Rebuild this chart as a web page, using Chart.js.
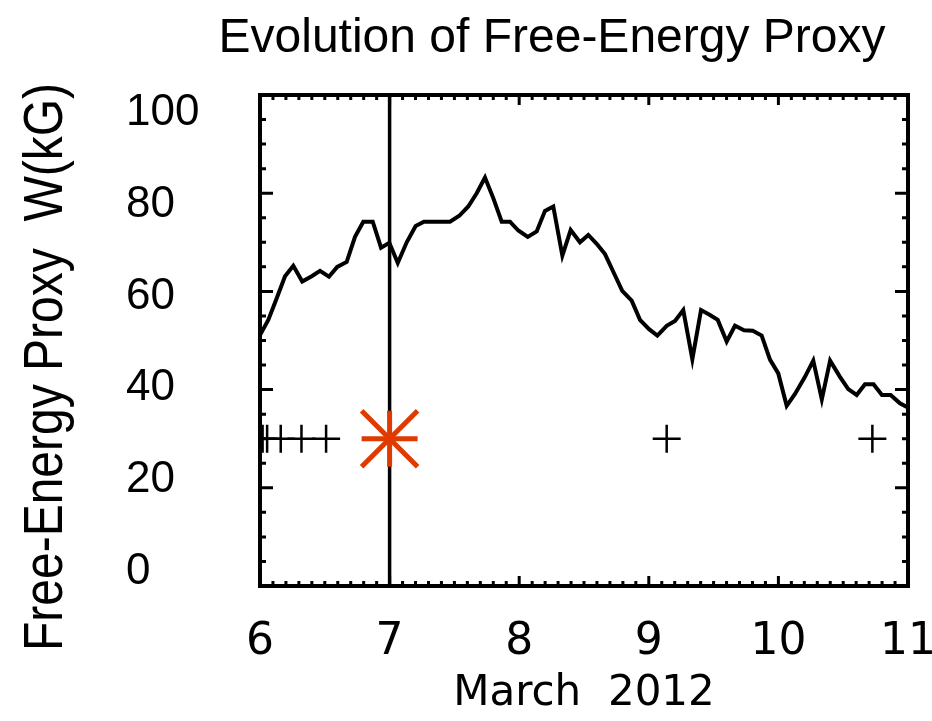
<!DOCTYPE html>
<html><head><meta charset="utf-8">
<script src="https://cdn.jsdelivr.net/npm/chart.js@4.4.0/dist/chart.umd.min.js"></script>
<style>html,body{margin:0;padding:0;background:#fff;}#wrap{width:932px;height:721px;}</style>
</head><body><div id="wrap"><canvas id="c" width="932" height="721"></canvas></div>
<script>
// ---- data ----
const chartTitle = 'Evolution of Free-Energy Proxy';
const yTitle = 'Free-Energy Proxy  W(kG)';
const xTitle = 'March  2012';
const timeDays = [6.000,6.064,6.129,6.193,6.257,6.326,6.399,6.463,6.532,6.596,6.669,6.733,6.797,6.870,6.934,6.998,
  7.063,7.132,7.201,7.265,7.333,7.399,7.466,7.538,7.607,7.672,7.736,7.800,7.865,7.929,7.993,
  8.066,8.135,8.199,8.263,8.333,8.397,8.469,8.533,8.598,8.662,8.726,8.795,8.868,8.932,
  9.002,9.066,9.138,9.202,9.266,9.336,9.403,9.472,9.532,9.601,9.665,9.735,9.802,9.871,9.935,
  9.999,10.064,10.128,10.205,10.269,10.335,10.399,10.475,10.539,10.604,10.668,10.734,10.799,10.866,10.938,11.002];
const proxyValues = [51.1,54.2,58.6,63.1,65.2,62.0,63.1,64.2,63.0,65.0,66.0,71.1,74.2,74.2,68.9,69.9,
  65.8,70.0,73.3,74.2,74.2,74.2,74.2,75.4,77.3,80.0,83.2,79.0,74.2,74.2,72.4,
  71.1,72.2,76.4,77.3,67.3,72.5,70.0,71.5,69.7,67.6,64.0,60.1,58.1,54.2,
  52.3,51.0,53.0,54.0,56.2,46.2,56.2,55.2,54.2,49.8,53.0,52.1,52.0,51.0,46.1,
  43.3,36.7,39.1,42.6,45.9,38.0,45.9,42.6,40.1,38.9,41.1,41.1,38.9,38.9,37.2,36.3];
const eventDays = [6.02, 6.055, 6.16, 6.32, 6.51, 9.138, 10.725];
const eventLevels = [30, 30, 30, 30, 30, 30, 30];
const flareDay = 7.0;
const flareLevel = 30;
const yTickValues = [0, 20, 40, 60, 80, 100];
const xTickValues = [6, 7, 8, 9, 10, 11];

// ---- chart ----
const linePts = timeDays.map((d, i) => ({x: d, y: proxyValues[i]}));
const eventPts = eventDays.map((d, i) => ({x: d, y: eventLevels[i]}));
const flarePts = [{x: flareDay, y: flareLevel}];
const vlinePts = [{x: flareDay, y: yTickValues[0]}, {x: flareDay, y: yTickValues[yTickValues.length - 1]}];
const ORANGE = '#DF3B00';

const framePlugin = {
  id: 'frame',
  afterDatasetsDraw(chart) {
    const {ctx, chartArea: a, scales: {x, y}} = chart;
    ctx.save();
    ctx.strokeStyle = '#000';
    ctx.lineCap = 'butt';
    ctx.lineWidth = 3;
    for (let v = 0; v <= 100; v += 5) {
      const py = y.getPixelForValue(v);
      const len = (v % 20 === 0) ? 13 : 6;
      ctx.beginPath();
      ctx.moveTo(a.left, py); ctx.lineTo(a.left + len, py);
      ctx.moveTo(a.right, py); ctx.lineTo(a.right - len, py);
      ctx.stroke();
    }
    for (let k = 0; k <= 50; k++) {
      const d = 6 + k / 10;
      const px = x.getPixelForValue(d);
      const len = (k % 10 === 0) ? 10 : 5;
      ctx.beginPath();
      ctx.moveTo(px, a.bottom); ctx.lineTo(px, a.bottom - len);
      ctx.moveTo(px, a.top); ctx.lineTo(px, a.top + len);
      ctx.stroke();
    }
    ctx.lineWidth = 4;
    ctx.strokeRect(a.left, a.top, a.right - a.left, a.bottom - a.top);
    ctx.restore();
  },
  afterDraw(chart) {
    const {ctx} = chart;
    ctx.save();
    ctx.fillStyle = '#000';
    ctx.font = '48px "Liberation Sans", Arial, sans-serif';
    ctx.textAlign = 'center';
    ctx.textBaseline = 'alphabetic';
    ctx.fillText(chartTitle, 552, 52);
    ctx.translate(62, 367);
    ctx.rotate(-Math.PI / 2);
    ctx.scale(1, 1.15);
    ctx.fillText(yTitle, 0, 0);
    ctx.restore();
  }
};

new Chart(document.getElementById('c'), {
  type: 'scatter',
  data: {
    datasets: [
      {data: flarePts, pointStyle: 'cross', pointRadius: 28, borderColor: ORANGE, backgroundColor: ORANGE, pointBorderWidth: 5, borderWidth: 5, order: 0},
      {data: flarePts, pointStyle: 'crossRot', pointRadius: 39.6, borderColor: ORANGE, backgroundColor: ORANGE, pointBorderWidth: 5, borderWidth: 5, order: 0},
      {data: eventPts, pointStyle: 'cross', pointRadius: 14, borderColor: '#000', backgroundColor: '#000', pointBorderWidth: 2.5, borderWidth: 2.5, order: 1},
      {data: vlinePts, showLine: true, borderColor: '#000', borderWidth: 3.5, pointRadius: 0, order: 2},
      {data: linePts, showLine: true, borderColor: '#000', borderWidth: 4, pointRadius: 0, tension: 0, borderJoinStyle: 'miter', order: 3}
    ]
  },
  options: {
    responsive: false,
    animation: false,
    events: [],
    layout: {autoPadding: false, padding: {left: 126, right: 24, top: 95, bottom: 0}},
    plugins: {legend: {display: false}, title: {display: false}, tooltip: {enabled: false}},
    scales: {
      x: {
        type: 'linear', position: 'bottom', min: 6, max: 11,
        grid: {display: false}, border: {display: false},
        afterBuildTicks(s) { s.ticks = xTickValues.map(v => ({value: v})); },
        afterFit(s) { s.height = 135; s.paddingLeft = 0; s.paddingRight = 0; },
        ticks: {color: '#000', maxRotation: 0, autoSkip: false, padding: 22,
          font: {family: '"DejaVu Sans", sans-serif', size: 44}},
        title: {display: true, text: xTitle, color: '#000', padding: {top: 0, bottom: 2},
          font: {family: '"DejaVu Sans", sans-serif', size: 42}}
      },
      y: {
        type: 'linear', position: 'left', min: 0, max: 100, display: false
      },
      yLab: {
        type: 'linear', position: 'left', min: -3.16, max: 103.93,
        grid: {display: false}, border: {display: false},
        afterBuildTicks(s) { s.ticks = yTickValues.map(v => ({value: v})); },
        afterFit(s) { s.width = 134; s.paddingTop = 0; s.paddingBottom = 0; },
        ticks: {color: '#000', crossAlign: 'far', padding: 0,
          font: {family: '"Liberation Sans", Arial, sans-serif', size: 44}}
      }
    }
  },
  plugins: [framePlugin]
});
</script>
</body></html>
